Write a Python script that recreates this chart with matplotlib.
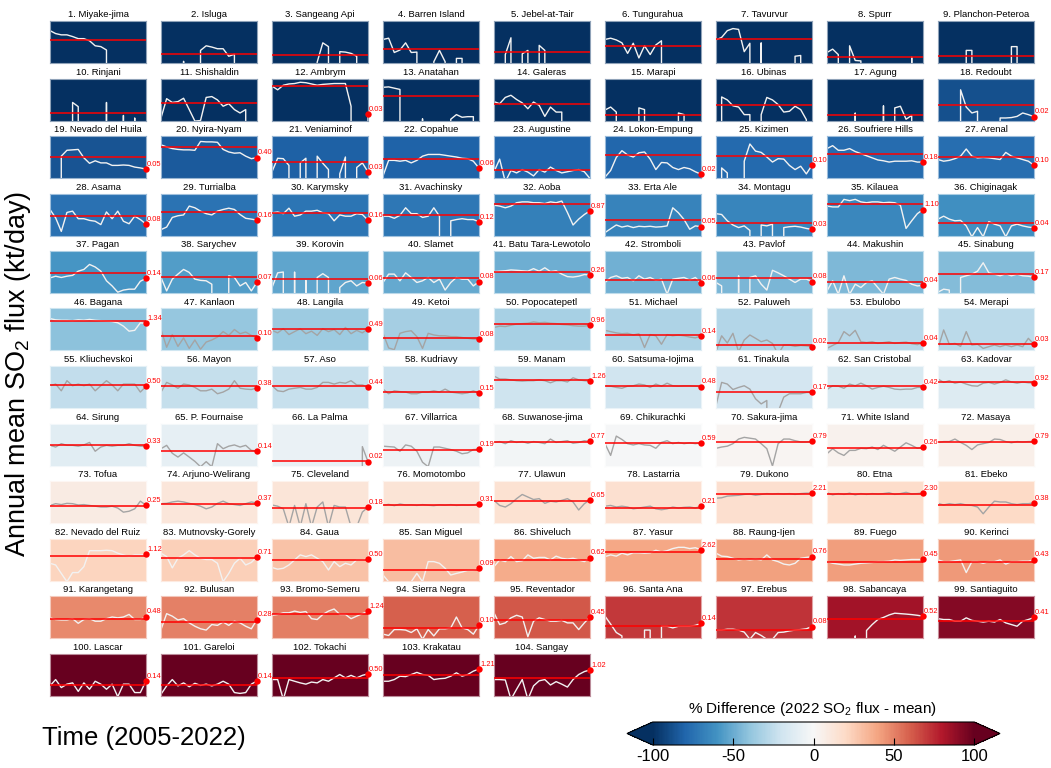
import matplotlib
matplotlib.use("Agg")
import matplotlib.pyplot as plt
from matplotlib import colors as mcolors
from matplotlib.cm import ScalarMappable

plt.rcParams['font.family'] = ['Liberation Sans', 'DejaVu Sans']
plt.rcParams['mathtext.default'] = 'regular'
plt.rcParams['axes.unicode_minus'] = False

years = list(range(2005, 2023))

volcanoes = [
    "Miyake-jima", "Isluga", "Sangeang Api", "Barren Island", "Jebel-at-Tair",
    "Tungurahua", "Tavurvur", "Spurr", "Planchon-Peteroa",
    "Rinjani", "Shishaldin", "Ambrym", "Anatahan", "Galeras", "Marapi", "Ubinas",
    "Agung", "Redoubt",
    "Nevado del Huila", "Nyira-Nyam", "Veniaminof", "Copahue", "Augustine",
    "Lokon-Empung", "Kizimen", "Soufriere Hills", "Arenal",
    "Asama", "Turrialba", "Karymsky", "Avachinsky", "Aoba", "Erta Ale", "Montagu",
    "Kilauea", "Chiginagak",
    "Pagan", "Sarychev", "Korovin", "Slamet", "Batu Tara-Lewotolo", "Stromboli",
    "Pavlof", "Makushin", "Sinabung",
    "Bagana", "Kanlaon", "Langila", "Ketoi", "Popocatepetl", "Michael", "Paluweh",
    "Ebulobo", "Merapi",
    "Kliuchevskoi", "Mayon", "Aso", "Kudriavy", "Manam", "Satsuma-Iojima",
    "Tinakula", "San Cristobal", "Kadovar",
    "Sirung", "P. Fournaise", "La Palma", "Villarrica", "Suwanose-jima",
    "Chikurachki", "Sakura-jima", "White Island", "Masaya",
    "Tofua", "Arjuno-Welirang", "Cleveland", "Momotombo", "Ulawun", "Lastarria",
    "Dukono", "Etna", "Ebeko",
    "Nevado del Ruiz", "Mutnovsky-Gorely", "Gaua", "San Miguel", "Shiveluch",
    "Yasur", "Raung-Ijen", "Fuego", "Kerinci",
    "Karangetang", "Bulusan", "Bromo-Semeru", "Sierra Negra", "Reventador",
    "Santa Ana", "Erebus", "Sabancaya", "Santiaguito",
    "Lascar", "Gareloi", "Tokachi", "Krakatau", "Sangay",
]

# % difference between the 2022 flux and the 2005-2022 mean
pct_diff = [
    -100, -100, -100, -100, -100, -100, -100, -100, -100,
    -100, -100, -99.5, -100, -100, -100, -100, -100, -88,
    -86, -84, -82, -81, -80, -79, -78, -77, -76,
    -75, -74, -73, -72, -68, -67, -66, -65, -61,
    -59, -56, -53, -51, -49, -48, -46, -45, -43,
    -41, -39, -36, -34, -33, -31, -29, -28, -27,
    -25, -24, -23, -22, -21, -20, -18, -16, -14,
    -11, -9, -7, -5, -3, -1, 2, 4, 6,
    8, 12, 13, 14, 15, 16, 17, 18, 20,
    22, 24, 29, 31, 37, 39, 41, 42, 43,
    48, 50, 51, 60, 62, 71, 72, 84, 92,
    126, 109, 122, 215, 353,
]

# 2005-2022 mean SO2 flux (kt/day)
mean_flux = [
    0.65, 0.053, 0.046, 0.132, 0.078, 0.225, 0.82, 0.031, 0.034,
    0.036, 0.225, 5.5, 0.82, 0.194, 0.026, 0.154, 0.026, 0.154,
    0.447, 2.99, 0.172, 0.34, 0.046, 0.65, 0.52, 0.82, 0.447,
    0.33, 0.71, 0.61, 0.447, 2.77, 0.154, 0.105, 3.23, 0.105,
    0.384, 0.166, 0.132, 0.143, 0.48, 0.114, 0.143, 0.067, 0.305,
    2.05, 0.143, 0.52, 0.091, 1.11, 0.166, 0.027, 0.042, 0.031,
    0.65, 0.52, 0.56, 0.194, 1.63, 0.56, 0.194, 0.52, 1.11,
    0.384, 0.143, 0.021, 0.179, 0.76, 0.61, 0.654, 0.243, 0.654,
    0.225, 0.33, 0.16, 0.283, 0.52, 0.16, 1.85, 1.95, 0.283,
    0.92, 0.58, 0.40, 0.066, 0.44, 1.85, 0.53, 0.31, 0.30,
    0.325, 0.19, 0.82, 0.0625, 0.28, 0.082, 0.046, 0.29, 0.215,
    0.062, 0.067, 0.225, 0.384, 0.225,
]

# Annual mean SO2 flux 2005-2022 (kt/day), one list per volcano, grouped by row
flux_row01 = [
    [3.5, 2.05, 1.63, 1.63, 1.2, 0.82, 0.82, 0.56, 0.225, 0.194, 0.105, 0, 0, 0, 0, 0, 0, 0],
    [0.046, 0, 0, 0, 0.0136, 0, 0, 0.098, 0.225, 0.179, 0.132, 0.132, 0.034, 0.049, 0, 0, 0, 0],
    [0, 0, 0, 0, 0, 0, 0, 0, 0.0116, 0.384, 0.194, 0, 0.078, 0.072, 0.057, 0.034, 0, 0],
    [0.71, 0.89, 0.067, 0.105, 0.384, 0.067, 0.072, 0, 0, 0.0126, 0.098, 0.0126, 0, 0.023, 0.023, 0, 0, 0],
    [0, 0, 0.046, 0.96, 0, 0.053, 0.098, 0, 0.243, 0.098, 0, 0, 0, 0, 0, 0, 0, 0],
    [0.71, 0.89, 0.65, 0.384, 0.057, 0.356, 0.025, 0.225, 0.046, 0.262, 0.56, 0, 0, 0, 0, 0, 0, 0],
    [0.65, 1.03, 3.48, 5.09, 4.38, 0.078, 0.356, 0, 0.384, 0, 0, 0, 0, 0, 0.034, 0.039, 0, 0],
    [0.067, 0.123, 0.046, 0, 0.225, 0.0158, 0.0146, 0, 0, 0, 0, 0, 0, 0, 0, 0.029, 0, 0],
    [0, 0, 0, 0, 0, 0.098, 0.098, 0, 0, 0, 0, 0, 0, 0.194, 0.194, 0, 0, 0],
]
flux_row02 = [
    [0, 0, 0, 0, 0.262, 0.123, 0, 0, 0, 0, 0.262, 0, 0, 0.025, 0, 0.0158, 0, 0],
    [0.0158, 0.52, 0.262, 0.305, 0.56, 0.072, 0.009, 0.010, 0.65, 0.76, 0.414, 0.132, 0.209, 0.072, 0.039, 0.072, 0, 0],
    [5.09, 2.57, 5.93, 7.45, 8.04, 10.1, 9.35, 7.45, 5.93, 6.9, 7.45, 8.04, 8.04, 8.04, 0.132, 0, 0, 0.03],
    [4.06, 4.38, 3.48, 2.77, 0, 0, 0, 0.0136, 0, 0, 0, 0, 0.0126, 0.029, 0.018, 0.020, 0.020, 0],
    [0.305, 0.209, 0.65, 0.96, 0.447, 0.243, 0.084, 0.283, 0.154, 0.021, 0.114, 0.046, 0.046, 0, 0, 0, 0, 0],
    [0.067, 0.114, 0.046, 0, 0, 0, 0.098, 0.072, 0, 0, 0, 0, 0, 0.039, 0.029, 0, 0, 0],
    [0, 0.71, 0.414, 0.143, 0.114, 0.029, 0.029, 0, 0.029, 0.65, 0.414, 0.179, 0.046, 0.053, 0.132, 0.072, 0.0116, 0],
    [0, 0, 0, 0, 0, 0.039, 0, 0, 0, 0, 0.143, 0, 0.098, 0.132, 0.0126, 0.025, 0, 0],
    [0.029, 0, 0, 0, 2.57, 0.114, 0.039, 0.053, 0, 0, 0, 0.0158, 0.0158, 0.017, 0.021, 0.039, 0.029, 0.02],
]
flux_row03 = [
    [0.046, 0, 0.52, 1.51, 1.63, 1.76, 0.384, 0.143, 0.225, 0.154, 0.154, 0.098, 0.098, 0.105, 0.098, 0.072, 0.062, 0.05],
    [4.06, 2.77, 2.05, 1.76, 1.63, 1.63, 1.51, 7.45, 6.9, 6.9, 6.4, 1.76, 1.11, 0.89, 0.96, 0.52, 0.33, 0.40],
    [0.031, 0.356, 0.33, 0.098, 0, 0.154, 0.356, 0, 0.52, 0.143, 0.046, 0, 0.021, 0.447, 0, 0.067, 0.154, 0.03],
    [0.0146, 0.243, 0.243, 0.209, 0.243, 0.154, 0.243, 0.52, 0.71, 0.71, 0.71, 0.61, 0.52, 0.447, 0.356, 0.33, 0.209, 0.06],
    [0.031, 0.305, 0.005, 0.039, 0.025, 0.046, 0.029, 0.0146, 0.046, 0.029, 0.072, 0.039, 0.025, 0.031, 0.039, 0.046, 0.031, 0.009],
    [0.0116, 0.039, 0.414, 1.4, 0.65, 0.447, 0.96, 1.11, 0.305, 0.046, 0.166, 0.154, 0.067, 0.046, 0.067, 0.053, 0.031, 0.02],
    [0, 0.062, 0.025, 0, 0, 0.209, 4.72, 1.3, 1.03, 0.447, 0.179, 0.33, 0.305, 0.098, 0.046, 0.084, 0.021, 0.10],
    [2.05, 3.48, 1.51, 1.51, 2.05, 1.2, 0.82, 0.56, 0.384, 0.262, 0.225, 0.179, 0.209, 0.209, 0.209, 0.225, 0.179, 0.18],
    [0.283, 0.209, 0.243, 0.33, 0.52, 1.9, 0.52, 0.384, 0.414, 0.384, 0.33, 0.283, 1.03, 0.52, 0.384, 0.283, 0.209, 0.10],
]
flux_row04 = [
    [1.11, 0.243, 0.021, 0.65, 0.82, 0.209, 0.209, 0.154, 0.132, 0.072, 0.71, 0.209, 0.82, 0.132, 0.084, 0.33, 0.179, 0.08],
    [0.029, 0.046, 0.262, 0.356, 0.414, 2.05, 1.51, 0.82, 0.52, 0.414, 0.82, 1.11, 1.4, 1.11, 0.447, 0.225, 0.194, 0.16],
    [0.61, 0.71, 0.52, 1.4, 0.33, 0.414, 0.82, 0.82, 0.96, 0.61, 0.52, 0.143, 0.414, 0.33, 0.33, 0.52, 0.447, 0.16],
    [0.33, 0.33, 0.225, 0.384, 1.51, 0.52, 0.52, 0.262, 0.33, 1.51, 0.33, 0, 0.143, 0.179, 0.209, 0.179, 0.179, 0.12],
    [2.38, 2.05, 1.51, 2.05, 3.76, 4.38, 4.38, 3.76, 3.76, 3.23, 4.38, 3.76, 5.09, 0.65, 0.067, 0.194, 0.447, 0.87],
    [0.017, 0.034, 0.067, 0.046, 0.057, 0.042, 0.053, 0.049, 0.053, 0.046, 0.049, 0.057, 1.51, 0.61, 0.179, 0.031, 0.057, 0.05],
    [0.52, 0.447, 0.143, 0.067, 0.042, 0.057, 0.025, 0, 0.067, 0.057, 0.078, 0, 0.042, 0.049, 0.053, 0.046, 0.036, 0.03],
    [2.05, 1.76, 1.76, 6.9, 5.5, 6.9, 4.38, 3.76, 4.38, 4.38, 3.76, 4.06, 3.76, 2.38, 0.036, 0.143, 0.52, 1.10],
    [0.194, 0.33, 0.194, 0.143, 0.154, 0.057, 0.008, 0.042, 0.008, 0.123, 0.078, 0.057, 0.008, 0.057, 0.078, 0.057, 0.046, 0.04],
]
flux_row05 = [
    [0.154, 0.209, 0.166, 0.209, 0.243, 0.52, 0.71, 1.76, 1.11, 0.52, 0.091, 0.036, 0.0116, 0.017, 0.020, 0.020, 0.084, 0.14],
    [0.166, 0.0146, 0.123, 0.305, 0.71, 0.414, 0.123, 0.098, 0.091, 0.049, 0, 0, 0.225, 0.166, 0.036, 0.067, 0.0146, 0.07],
    [0.027, 0.384, 0.447, 0, 0.447, 0, 0.098, 0, 0.166, 0.33, 0.166, 0, 0.027, 0.067, 0.091, 0.036, 0.067, 0.06],
    [0.067, 0.305, 0.305, 0.091, 0.384, 0.166, 0.067, 0.091, 0.166, 0.067, 0.123, 0.017, 0.067, 0.166, 0.123, 0.123, 0.036, 0.08],
    [0.48, 0.52, 0.56, 0.65, 0.61, 0.56, 0.52, 0.82, 0.52, 0.96, 0.48, 0.56, 0.305, 0.194, 0.179, 0.209, 0.283, 0.26],
    [0.067, 0.166, 0.225, 0.143, 0.166, 0.091, 0.225, 0.123, 0.166, 0.098, 0.123, 0.008, 0.123, 0.143, 0.166, 0.105, 0.166, 0.06],
    [0.067, 0.036, 0, 0, 0.225, 0, 0.166, 0.225, 0.049, 0.017, 0.61, 0.384, 0.225, 0.123, 0.067, 0.123, 0.123, 0.08],
    [0.0146, 0.091, 0.008, 0.225, 0.008, 0.049, 0.027, 0.067, 0.091, 0.027, 0.008, 0.123, 0.166, 0.123, 0.098, 0.049, 0.036, 0.04],
    [0.0116, 0.020, 0.017, 0, 0.166, 0.225, 0.305, 0.52, 2.38, 0.384, 0.305, 0.225, 0.33, 0.225, 0.305, 0.225, 0.209, 0.17],
]
flux_row06 = [
    [3.23, 2.57, 2.38, 2.38, 2.21, 2.57, 2.38, 2.77, 2.38, 2.21, 2.05, 1.9, 1.51, 0.82, 0.33, 0.384, 1.51, 1.34],
    [0.447, 0.018, 0.179, 0.021, 0.098, 0.0146, 0.067, 0.0126, 0.046, 0.067, 0.114, 0.305, 0.154, 0.447, 0.209, 0.283, 0.154, 0.10],
    [0.384, 0.243, 0.52, 0.179, 0.305, 0.52, 0.209, 0.33, 0.154, 0.52, 0.305, 0.447, 0.179, 0.65, 0.209, 0.384, 0.243, 0.49],
    [0.225, 0.0158, 0.0116, 0.225, 0.305, 0.356, 0.123, 0.0146, 0.225, 0.166, 0.143, 0.143, 0.123, 0.123, 0.105, 0.091, 0.078, 0.08],
    [0.65, 0.82, 0.76, 0.96, 1.2, 1.3, 1.4, 1.76, 1.51, 1.63, 1.4, 1.3, 1.11, 1.03, 0.89, 0.82, 0.82, 0.96],
    [0.384, 0.305, 0.243, 0.209, 0.225, 0.166, 0.209, 0.017, 0.179, 0.143, 0.031, 0.179, 0.143, 0.166, 0.143, 0.114, 0.098, 0.14],
    [0.008, 0.143, 0.039, 0.225, 0.008, 0.067, 0.166, 0.091, 0.049, 0.067, 0.036, 0.005, 0.027, 0.027, 0.021, 0.025, 0.023, 0.02],
    [0.0146, 0.025, 0.042, 0.305, 0.143, 0.384, 0.049, 0.042, 0.049, 0.036, 0.042, 0.049, 0.036, 0.042, 0.046, 0.034, 0.029, 0.04],
    [0.0146, 0.414, 0.031, 0.036, 0.021, 0.305, 0.027, 0.031, 0.0146, 0.020, 0.027, 0.020, 0.027, 0.020, 0.027, 0.020, 0.091, 0.03],
]
flux_row07 = [
    [0.56, 0.76, 0.225, 1.4, 0.56, 0.76, 0.56, 0.76, 0.225, 0.56, 1.4, 0.65, 0.225, 0.76, 0.76, 0.76, 0.179, 0.50],
    [0.179, 1.03, 0.65, 0.356, 0.76, 0.65, 0.414, 0.225, 0.225, 0.305, 0.132, 0.179, 0.305, 1.4, 0.356, 0.305, 0.283, 0.38],
    [0.56, 0.225, 0.194, 0.305, 0.356, 0.414, 0.305, 0.305, 0.414, 1.03, 1.03, 0.76, 1.03, 0.89, 1.4, 0.65, 0.65, 0.44],
    [0.305, 0.132, 0.225, 0.194, 0.179, 0.132, 0.132, 0.179, 0.179, 0.225, 0.179, 0.305, 0.179, 0.154, 0.132, 0.154, 0.225, 0.15],
    [3.23, 1.9, 1.9, 1.63, 1.4, 1.3, 1.4, 1.4, 1.63, 1.4, 0.96, 1.4, 1.4, 1.11, 2.38, 1.63, 1.4, 1.26],
    [0.56, 0.52, 0.414, 0.356, 0.52, 0.56, 0.76, 0.65, 0.414, 0.76, 0.52, 0.89, 0.56, 0.52, 0.56, 0.56, 0.52, 0.48],
    [0.0158, 1.03, 0.76, 0.283, 0.414, 0.56, 0.305, 0.053, 0.021, 0.039, 0, 0.005, 0.072, 0.132, 0.132, 0.132, 0.166, 0.17],
    [0.283, 0.56, 0.52, 0.356, 0.76, 0.56, 0.89, 0.56, 0.305, 0.414, 0.52, 0.414, 0.305, 0.283, 0.305, 0.305, 0.414, 0.42],
    [1.9, 1.03, 1.4, 0.89, 1.11, 0.76, 0.56, 0.52, 0.89, 1.03, 0.76, 1.03, 1.63, 1.11, 0.89, 1.11, 0.96, 0.92],
]
flux_row08 = [
    [0.384, 0.283, 0.52, 0.384, 0.384, 0.33, 0.414, 0.65, 0.132, 0.283, 0.384, 0.33, 0.384, 0.384, 0.52, 0.384, 0.33, 0.33],
    [0.209, 0.384, 0.091, 0.046, 0.098, 0.046, 0.021, 0.008, 0.020, 0.008, 0.52, 0.209, 0.33, 0.414, 0.283, 0.384, 0.154, 0.14],
    [0, 0, 0, 0, 0, 0, 0, 0, 0, 0, 0, 0, 0, 0, 0, 0, 0.305, 0.02],
    [0.33, 0.305, 0.283, 0.132, 0.414, 0.33, 0.132, 0.018, 0.008, 0.283, 0.283, 0.225, 0.179, 0.132, 0.084, 0.098, 0.179, 0.19],
    [0.65, 0.76, 0.52, 0.89, 0.65, 0.76, 0.56, 0.76, 0.65, 0.52, 1.2, 0.65, 0.76, 0.89, 0.56, 0.65, 0.89, 0.77],
    [0.52, 0.062, 2.05, 1.11, 0.52, 0.414, 0.52, 0.414, 0.384, 0.225, 0.65, 0.89, 0.52, 0.65, 0.52, 0.61, 0.52, 0.59],
    [0.225, 0.283, 0.33, 0.52, 1.2, 1.63, 1.4, 1.2, 0.52, 0.209, 0.009, 0.52, 1.2, 1.2, 0.89, 0.71, 0.71, 0.79],
    [0.084, 0.209, 0.098, 0.062, 0.154, 0.154, 0.225, 0.209, 0.283, 0.179, 0.384, 0.225, 0.132, 0.283, 0.61, 0.384, 0.225, 0.26],
    [0.65, 0.76, 0.76, 1.2, 0.65, 0.384, 0.179, 0.414, 0.52, 0.65, 1.2, 1.11, 0.76, 0.61, 0.76, 0.71, 0.76, 0.79],
]
flux_row09 = [
    [0.24, 0.33, 0.28, 0.35, 0.33, 0.26, 0.28, 0.24, 0.21, 0.18, 0.18, 0.21, 0.15, 0.071, 0.084, 0.13, 0.52, 0.25],
    [0.33, 0.35, 0.45, 0.52, 0.45, 0.35, 0.28, 0.21, 0.13, 0.18, 0.35, 0.52, 0.33, 0.28, 0.24, 0.33, 0.45, 0.37],
    [0.26, 0.21, 0.13, 0.005, 0.24, 0.005, 0.33, 0.005, 0.18, 0.45, 0.005, 0.24, 0.18, 0.18, 0.005, 0.005, 0.072, 0.18],
    [0.25, 0.29, 0.23, 0.31, 0.26, 0.27, 0.24, 0.28, 0.25, 0.23, 0.27, 0.25, 0.28, 0.24, 0.26, 0.25, 0.27, 0.31],
    [0.60, 0.24, 0.18, 0.33, 0.82, 1.75, 1.1, 0.70, 0.82, 0.35, 0.52, 0.45, 0.60, 0.82, 0.45, 0.105, 0.33, 0.65],
    [0.21, 0.24, 0.18, 0.21, 0.18, 0.13, 0.15, 0.18, 0.21, 0.13, 0.11, 0.13, 0.18, 0.15, 0.17, 0.18, 0.15, 0.21],
    [0.89, 0.96, 1.3, 1.4, 1.51, 1.76, 1.9, 1.51, 1.76, 2.05, 1.9, 2.05, 1.9, 2.05, 1.76, 2.05, 2.21, 2.21],
    [2.38, 1.63, 2.05, 1.76, 2.21, 1.63, 2.05, 1.76, 2.05, 1.9, 2.05, 2.38, 1.76, 2.05, 2.57, 1.9, 2.05, 2.30],
    [0.35, 0.26, 0.33, 0.28, 0.33, 0.26, 0.24, 0.18, 0.053, 0.18, 0.52, 0.45, 0.45, 0.33, 0.28, 0.33, 0.33, 0.38],
]
flux_row10 = [
    [0.225, 0.166, 0.036, 0.008, 0.042, 0.042, 0.123, 2.21, 2.21, 2.21, 2.38, 2.21, 1.4, 1.03, 0.76, 1.03, 1.03, 1.12],
    [1.4, 0.76, 0.098, 0.56, 1.03, 2.21, 1.03, 0.56, 0.447, 0.447, 0.225, 0.008, 0.036, 0.225, 0.56, 0.166, 0.262, 0.71],
    [0.105, 0.078, 0.091, 0.166, 0.414, 1.03, 0.76, 1.03, 0.56, 0.305, 0.067, 0.305, 0.123, 0.225, 0.166, 0.414, 0.414, 0.50],
    [0.027, 0.008, 0, 0, 0, 0.008, 0.036, 0.008, 0.305, 0.305, 0.225, 0.091, 0.027, 0.036, 0.046, 0.062, 0.062, 0.09],
    [0.123, 0.414, 0.305, 0.76, 0.305, 0.356, 1.03, 0.56, 0.65, 0.65, 0.414, 0.82, 0.56, 0.48, 0.56, 0.414, 0.305, 0.62],
    [0.76, 1.03, 0.82, 1.4, 1.03, 1.51, 1.51, 1.4, 1.51, 2.38, 1.76, 2.21, 3.23, 4.06, 4.06, 3.23, 3.76, 2.62],
    [1.4, 0.82, 0.76, 0.56, 0.414, 0.48, 0.414, 0.48, 0.414, 1.03, 0.414, 0.305, 0.194, 0.166, 0.225, 0.56, 0.65, 0.76],
    [0.305, 0.225, 0.194, 0.166, 0.166, 0.194, 0.225, 0.243, 0.262, 0.305, 0.305, 0.33, 0.414, 0.384, 0.414, 0.447, 0.447, 0.45],
    [0.414, 0.305, 0.305, 0.356, 0.414, 0.042, 0.305, 0.305, 0.225, 0.305, 0.305, 0.414, 0.194, 0.305, 0.305, 0.33, 0.33, 0.43],
]
flux_row11 = [
    [0.384, 0.283, 0.262, 0.262, 0.33, 0.143, 0.283, 0.33, 0.209, 0.209, 0.33, 0.447, 0.384, 0.447, 0.71, 0.283, 0.283, 0.48],
    [0.046, 0.82, 0.52, 0.262, 0.33, 0.154, 0.084, 0.053, 0.042, 0.114, 0.098, 0.179, 0.098, 0.209, 0.154, 0.084, 0.053, 0.28],
    [0.61, 0.71, 0.96, 0.96, 1.3, 1.03, 1.2, 0.33, 0.283, 0.71, 1.3, 1.9, 0.71, 0.71, 0.33, 0.52, 0.82, 1.24],
    [0.020, 0.0158, 0.046, 0.046, 0.042, 0.027, 0.053, 0.008, 0.046, 0.0146, 0.053, 0.053, 0.062, 0.447, 0.062, 0.046, 0.020, 0.10],
    [0.96, 0.114, 0.154, 0.384, 0.61, 0.447, 0.0126, 0.209, 0.384, 0.283, 0.209, 0.209, 0.243, 0.154, 0.154, 0.046, 0.154, 0.45],
    [0.52, 0.123, 0.027, 0.0146, 0, 0, 0, 0.042, 0.042, 0, 0.084, 0.084, 0.062, 0.084, 0.084, 0.084, 0.098, 0.14],
    [0.042, 0.042, 0.049, 0.049, 0.042, 0.029, 0.008, 0.027, 0.0158, 0.008, 0.008, 0.027, 0.029, 0.036, 0.042, 0.046, 0.053, 0.08],
    [0, 0, 0, 0, 0, 0.0146, 0, 0.039, 0.114, 0.283, 0.414, 0.65, 0.89, 0.82, 0.76, 0.69, 0.61, 0.52],
    [0.33, 0.283, 0.283, 0.209, 0.209, 0.384, 0.243, 0.209, 0.179, 0.209, 0.179, 0.283, 0.154, 0.114, 0.084, 0.209, 0.283, 0.41],
]
flux_row12 = [
    [0.057, 0.179, 0.042, 0.078, 0.098, 0.021, 0.098, 0.031, 0.132, 0.078, 0.031, 0.078, 0.008, 0.078, 0.078, 0.017, 0.017, 0.14],
    [0.0126, 0.057, 0.179, 0.057, 0.098, 0.049, 0.091, 0.062, 0.078, 0.057, 0.078, 0.132, 0.078, 0.017, 0.0146, 0.017, 0.078, 0.14],
    [0.179, 0.179, 0.005, 0.179, 0.132, 0.098, 0.078, 0.114, 0.098, 0.179, 0.132, 0.243, 0.447, 0.243, 0.384, 0.243, 0.384, 0.50],
    [0.132, 0.132, 0.179, 0.33, 0.305, 0.447, 0.654, 0.447, 0.384, 0.179, 0.209, 0.225, 0.33, 0.61, 0.33, 0.447, 0.82, 1.21],
    [0.179, 0.179, 0.166, 0.005, 0.031, 0.179, 0.005, 0.057, 0.143, 0.179, 0.067, 0.123, 0.078, 0.046, 0.179, 0.447, 0.76, 1.02],
]

annual_flux = (flux_row01 + flux_row02 + flux_row03 + flux_row04 + flux_row05 +
               flux_row06 + flux_row07 + flux_row08 + flux_row09 + flux_row10 +
               flux_row11 + flux_row12)

Y_MIN, Y_MAX = 0.01, 20
W, H = 1051, 768
NCOLS = 9

cmap = plt.get_cmap('RdBu_r')
norm = mcolors.Normalize(vmin=-100, vmax=100)

fig = plt.figure(figsize=(W / 100, H / 100), dpi=100)

for i, name in enumerate(volcanoes):
    r, c = divmod(i, NCOLS)
    left = 50 + 111 * c
    top = 21 + 57.5 * r
    ax = fig.add_axes([left / W, 1 - (top + 42) / H, 96 / W, 42 / H])
    # left-hand panels sit above their neighbours so end labels stay visible
    ax.set_zorder(NCOLS - c)
    face = cmap(norm(pct_diff[i]))
    ax.set_facecolor(face)
    ax.set_yscale('log')
    ax.set_xlim(years[0], years[-1])
    ax.set_ylim(Y_MIN, Y_MAX)

    # near-neutral panels get a grey series line, strong ones white
    muted = -40 < pct_diff[i] < 21
    line_col = '#a4a4a4' if muted else '#f2f2f2'
    ax.plot(years, annual_flux[i], color=line_col, lw=1.0, zorder=2)
    ax.axhline(mean_flux[i], color='red', lw=1.1, zorder=3)

    last = annual_flux[i][-1]
    if last >= Y_MIN:
        ax.plot([years[-1]], [last], 'o', color='red', ms=4.6, mew=0,
                clip_on=False, zorder=5)
        ax.annotate(f"{last:.2f}", (years[-1], last), xytext=(0.8, 3.4),
                    textcoords='offset points', fontsize=5.4, color='red',
                    ha='left', va='center', annotation_clip=False, zorder=6)

    ax.tick_params(axis='both', which='both', length=0,
                   labelleft=False, labelbottom=False)
    edge = tuple(0.45 * f + 0.55 for f in face[:3])
    for sp in ax.spines.values():
        sp.set_color(edge)
        sp.set_linewidth(0.8)
    ax.set_title(f"{i + 1}. {name}", fontsize=6.8, pad=2.6)

fig.text(18 / W, 1 - 374 / H, "Annual mean SO$_2$ flux (kt/day)",
         rotation=90, ha='center', va='center', fontsize=19.5)
fig.text(42 / W, 1 - 738 / H, "Time (2005-2022)",
         ha='left', va='center', fontsize=18.5)

cax = fig.add_axes([627 / W, 1 - 745 / H, 373 / W, 23 / H])
cb = fig.colorbar(ScalarMappable(norm=norm, cmap=cmap), cax=cax,
                  orientation='horizontal', extend='both', extendfrac=0.08)
cb.set_ticks([-100, -50, 0, 50, 100])
cb.ax.tick_params(direction='in', length=5, width=0.8, labelsize=12, pad=3)
cb.outline.set_linewidth(0.8)
fig.text(813 / W, 1 - 709 / H, "% Difference (2022 SO$_2$ flux - mean)",
         ha='center', va='center', fontsize=11)

fig.savefig("out.png", dpi=100)
